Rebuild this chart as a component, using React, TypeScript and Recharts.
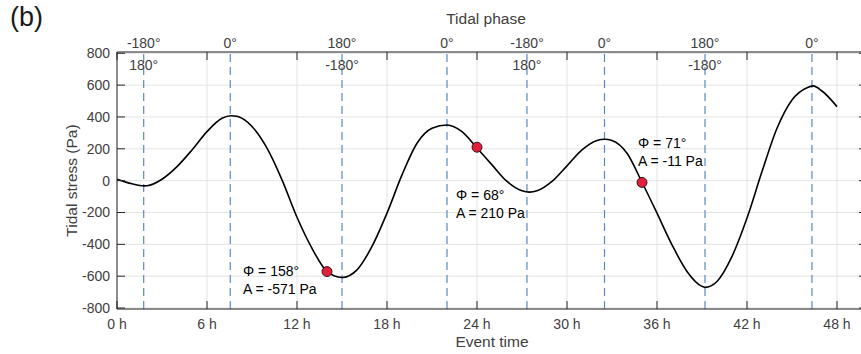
import {
  ComposedChart,
  Line,
  Scatter,
  XAxis,
  YAxis,
  CartesianGrid,
  ReferenceLine,
  Label,
} from "recharts";

// event time (h) and tidal stress (Pa)
const hours = [
  0, 1, 1.8, 2, 3, 4, 5, 6, 7, 7.6, 8, 9, 10, 11, 12, 13, 14, 15, 16, 17, 18, 19, 20, 21, 22, 23, 24,
  25, 26, 27, 27.5, 28, 29, 30, 31, 32, 32.5, 33, 34, 35, 36, 37, 38, 39, 39.2, 40, 41, 42, 43, 44,
  45, 46, 46.4, 47, 48,
];
const stress = [
  9, -20, -33, -32, 9, 88, 193, 308, 392, 408, 404, 340, 204, 5, -230, -425, -570, -608, -560, -413,
  -204, 36, 235, 329, 350, 308, 205, 99, -5, -64, -72, -64, -5, 93, 193, 252, 260, 252, 172, -10,
  -204, -403, -570, -664, -670, -633, -476, -235, 57, 329, 507, 584, 595, 563, 465,
];

const timeTicks = [0, 6, 12, 18, 24, 30, 36, 42, 48];
const stressTicks = [-800, -600, -400, -200, 0, 200, 400, 600, 800];

// tidal phase markers (dashed lines)
const phaseHours = [1.78, 7.55, 15.0, 22.0, 27.33, 32.5, 39.2, 46.33];
const phaseTop = ["-180°", "0°", "180°", "0°", "-180°", "0°", "180°", "0°"];
const phaseInner = ["180°", "", "-180°", "", "180°", "", "-180°", ""];

// highlighted events
const markerHours = [14.0, 24.0, 35.0];
const markerPhase = [158, 68, 71];
const markerStress = [-571, 210, -11];

const curve = hours.map((h, i) => ({ h, v: stress[i] }));
const markers = markerHours.map((h, i) => ({ h, v: markerStress[i], phi: markerPhase[i] }));

// where each note sits relative to its dot: [dx, dy of first line]
const noteOffsets = [
  [-84, 0],
  [-21, 48],
  [-4, -39],
];

const W = 868;
const H = 354;
const PLOT_LEFT = 117;
const PLOT_RIGHT = 867;
const PLOT_TOP = 52;
const PLOT_BOTTOM = 309;
const TICK_LEN = 8;
const AXIS = "#262626";
const TEXT = "#404040";
const FONT = 14;

function YTick(props: any) {
  const { x, y, payload } = props;
  return (
    <g>
      <line x1={PLOT_LEFT} x2={PLOT_LEFT + TICK_LEN} y1={y} y2={y} stroke={AXIS} />
      <line x1={PLOT_RIGHT} x2={PLOT_RIGHT - TICK_LEN} y1={y} y2={y} stroke={AXIS} />
      <text x={x} y={y} dy="0.35em" textAnchor="end" fontSize={FONT} fill={TEXT}>
        {payload.value}
      </text>
    </g>
  );
}

function XTick(props: any) {
  const { x, y, payload } = props;
  return (
    <g>
      <line x1={x} x2={x} y1={PLOT_BOTTOM} y2={PLOT_BOTTOM - TICK_LEN} stroke={AXIS} />
      <line x1={x} x2={x} y1={PLOT_TOP} y2={PLOT_TOP + TICK_LEN} stroke={AXIS} />
      <text x={x} y={y} dy="0.71em" textAnchor="middle" fontSize={FONT} fill={TEXT}>
        {payload.value} h
      </text>
    </g>
  );
}

function PhaseTick(props: any) {
  const { x, y, index } = props;
  return (
    <text x={x} y={y} textAnchor="middle" fontSize={FONT} fill={TEXT}>
      {phaseTop[index]}
    </text>
  );
}

function MarkerDot(props: any) {
  const { cx, cy, payload } = props;
  const i = markerHours.indexOf(payload.h);
  const [dx, dy] = noteOffsets[i] ?? [0, 0];
  return (
    <g>
      <circle cx={cx} cy={cy} r={5} fill="#e3203c" stroke="#000" strokeWidth={0.8} />
      <text x={cx + dx} y={cy + dy} dy="0.35em" fontSize={FONT} fill="#000">
        {`Φ = ${payload.phi}°`}
      </text>
      <text x={cx + dx} y={cy + dy + 17.6} dy="0.35em" fontSize={FONT} fill="#000">
        {`A = ${payload.v} Pa`}
      </text>
    </g>
  );
}

export default function App() {
  return (
    <div
      style={{
        position: "absolute",
        left: 0,
        top: 0,
        width: 861,
        height: H,
        overflow: "hidden",
        background: "#fff",
        fontFamily: '"Liberation Sans", Arial, sans-serif',
      }}
    >
      <div
        style={{
          position: "absolute",
          left: 10,
          top: 4,
          fontSize: 27,
          lineHeight: "27px",
          color: "#1a1a1a",
        }}
      >
        (b)
      </div>
      <ComposedChart
        width={W}
        height={H}
        data={curve}
        margin={{ top: PLOT_TOP - 20, right: 0, bottom: 0, left: 0 }}
      >
        <CartesianGrid stroke="#e3e3e3" />
        <XAxis
          dataKey="h"
          type="number"
          domain={[0, 50]}
          ticks={timeTicks}
          interval={0}
          height={45}
          tickSize={0}
          tickMargin={10}
          tickLine={false}
          axisLine={{ stroke: AXIS }}
          tick={<XTick />}
        >
          <Label value="Event time" position="insideBottom" offset={6.7} fontSize={15.5} fill={TEXT} />
        </XAxis>
        <XAxis
          xAxisId="top"
          orientation="top"
          dataKey="h"
          type="number"
          domain={[0, 50]}
          ticks={phaseHours}
          interval={0}
          height={20}
          tickSize={0}
          tickMargin={4}
          tickLine={false}
          axisLine={{ stroke: AXIS }}
          tick={<PhaseTick />}
        >
          <Label value="Tidal phase" position="insideTop" offset={-19.5} dx={-6} fontSize={15.5} fill={TEXT} />
        </XAxis>
        <YAxis
          type="number"
          domain={[-806, 808]}
          ticks={stressTicks}
          interval={0}
          width={PLOT_LEFT}
          tickSize={0}
          tickMargin={7}
          tickLine={false}
          axisLine={{ stroke: AXIS }}
          tick={<YTick />}
        >
          <Label
            value="Tidal stress (Pa)"
            angle={-90}
            position="insideLeft"
            offset={71}
            fontSize={15.5}
            fill={TEXT}
            style={{ textAnchor: "middle" }}
          />
        </YAxis>
        <YAxis
          yAxisId="right"
          orientation="right"
          type="number"
          domain={[-806, 808]}
          width={1}
          tick={false}
          tickLine={false}
          axisLine={{ stroke: AXIS }}
        />
        {phaseHours.map((h, i) => (
          <ReferenceLine
            key={h}
            x={h}
            stroke="#5b87c9"
            strokeWidth={1.2}
            strokeDasharray="8 5"
            label={
              phaseInner[i]
                ? { value: phaseInner[i], position: "insideTop", offset: 8, fontSize: FONT, fill: TEXT }
                : undefined
            }
          />
        ))}
        <Line
          dataKey="v"
          type="monotone"
          stroke="#000"
          strokeWidth={1.6}
          dot={false}
          activeDot={false}
          isAnimationActive={false}
        />
        <Scatter data={markers} dataKey="v" shape={<MarkerDot />} isAnimationActive={false} />
      </ComposedChart>
    </div>
  );
}
